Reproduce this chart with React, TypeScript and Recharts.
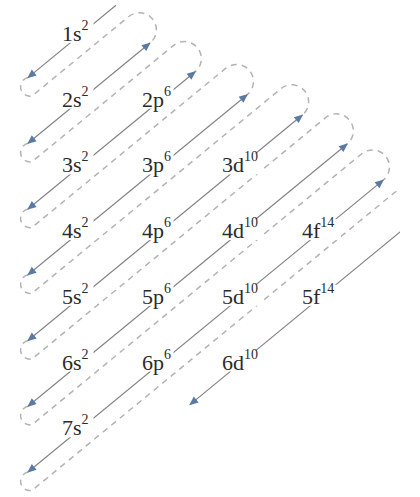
import React from 'react';
import { ComposedChart, Line, Scatter, XAxis, YAxis } from 'recharts';

// grid units: col = subshell (s, p, d, f), row = shell number
const SUBSHELLS = ['s', 'p', 'd', 'f'];
const CAPACITY = ['2', '6', '10', '14'];
const SUBSHELLS_PER_SHELL = [1, 2, 3, 4, 4, 3, 1];

// solid diagonals, k = n + l (1..8): upper-right start column and lower-left end column
const ARROW_TOP_COL = [0.45, 0.875, 1.44, 2.09, 2.78, 3.34, 3.79, 4.19];
const ARROW_END_COL = [-0.65, -0.65, -0.65, -0.65, -0.65, -0.65, -0.65, 1.375];

// dashed return paths (one after each of the first 7 diagonals)
const RETURN_SHIFT = 0.33;
const RETURN_START_COL = [-0.6, -0.6, -0.6, -0.6, -0.6, -0.6, -0.6];
const RETURN_END_COL = [0.61, 1.17, 1.82, 2.51, 3.07, 3.52, 3.92];

interface Pt { col: number; row: number; tip?: 'up' | 'down' }

const orbitals = SUBSHELLS_PER_SHELL.flatMap((count, i) =>
  SUBSHELLS.slice(0, count).map((s, l) => ({ col: l, row: i + 1, main: `${i + 1}${s}`, sup: CAPACITY[l] })),
);

const arrows: Pt[][] = ARROW_TOP_COL.map((top, i) => {
  const k = i + 1;
  return [
    { col: top, row: k - top, tip: k > 1 ? 'up' : undefined },
    { col: ARROW_END_COL[i], row: k - ARROW_END_COL[i], tip: 'down' },
  ];
});

const returns: Pt[][] = RETURN_END_COL.map((end, i) => {
  const k = i + 1;
  const s = k + RETURN_SHIFT;
  return [
    { col: ARROW_END_COL[i], row: k - ARROW_END_COL[i] },
    { col: RETURN_START_COL[i], row: s - RETURN_START_COL[i] },
    { col: end, row: s - end },
    { col: ARROW_TOP_COL[i + 1], row: k + 1 - ARROW_TOP_COL[i + 1] },
  ];
});

// half circle from p to q, bulging toward `bulge`
function halfCircle(ctx: any, p: number[], q: number[], bulge: number[]) {
  const mx = (p[0] + q[0]) / 2;
  const my = (p[1] + q[1]) / 2;
  const r = Math.hypot(q[0] - p[0], q[1] - p[1]) / 2;
  const a0 = Math.atan2(p[1] - my, p[0] - mx);
  const a1 = Math.atan2(q[1] - my, q[0] - mx);
  const dot = -Math.sin(a0) * bulge[0] + Math.cos(a0) * bulge[1];
  ctx.arc(mx, my, r, a0, a1, dot <= 0);
}

// hook at lower left, straight dashed run, cap over to next diagonal
const uTurnCurve: any = (ctx: any) => {
  let pts: number[][] = [];
  return {
    areaStart() {},
    areaEnd() {},
    lineStart() { pts = []; },
    point(x: number, y: number) { pts.push([x, y]); },
    lineEnd() {
      if (pts.length < 4) return;
      const [a, b, c, d] = pts;
      const dir = [c[0] - b[0], c[1] - b[1]];
      ctx.moveTo(a[0], a[1]);
      halfCircle(ctx, a, b, [-dir[0], -dir[1]]);
      ctx.lineTo(c[0], c[1]);
      halfCircle(ctx, c, d, dir);
    },
  };
};

const renderTip = (props: any) => {
  const { cx, cy, payload, index } = props;
  const key = `tip-${index}-${cx}-${cy}`;
  if (!payload?.tip || cx == null) return <g key={key} />;
  const angle = payload.tip === 'down' ? 140.6 : -39.4;
  return (
    <polygon key={key} points="1,0 -8,-3.8 -8,3.8" fill="#5a7aa3"
      transform={`translate(${cx},${cy}) rotate(${angle})`} />
  );
};

const renderLabel = (props: any) => {
  const { cx, cy, payload } = props;
  const w = 26 + 7.5 * payload.sup.length;
  return (
    <g>
      <rect x={cx - 20} y={cy - 13} width={w} height={21} fill="#fff" />
      <text x={cx - 18} y={cy + 6} fontFamily="'Liberation Serif', serif" fontSize={22} fill="#2b2b2b">
        {payload.main}
        <tspan fontSize={14} dy={-11}>{payload.sup}</tspan>
      </text>
    </g>
  );
};

export default function App() {
  return (
    <div style={{ position: 'fixed', left: 0, top: 0, width: 420, height: 497, background: '#fff' }}>
      <ComposedChart width={420} height={497} margin={{ top: 2, right: 20, bottom: 2, left: 0 }}>
        <XAxis type="number" dataKey="col" domain={[-1, 4]} hide allowDataOverflow />
        <YAxis type="number" dataKey="row" domain={[0.5, 8]} reversed hide allowDataOverflow />
        {returns.map((d, i) => (
          <Line key={`r${i}`} data={d} dataKey="row" type={uTurnCurve} stroke="#b3b3b3" strokeWidth={1.5}
            strokeDasharray="6 5" dot={false} activeDot={false} isAnimationActive={false} />
        ))}
        {arrows.map((d, i) => (
          <Line key={`a${i}`} data={d} dataKey="row" type="linear" stroke="#858585" strokeWidth={1.2}
            dot={renderTip} activeDot={false} isAnimationActive={false} />
        ))}
        <Scatter data={orbitals} dataKey="row" shape={renderLabel} isAnimationActive={false} />
      </ComposedChart>
    </div>
  );
}
